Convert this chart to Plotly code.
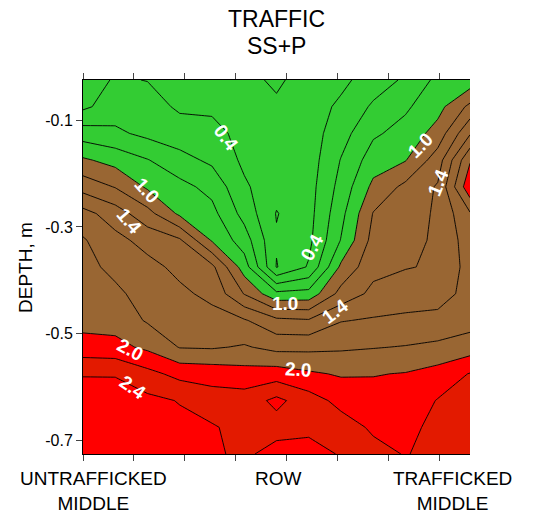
import plotly.graph_objects as go

# ---- data ----
x_cm = [0, 6.33, 12.67, 19, 25.33, 31.67, 38, 44.33, 50.67, 57, 63.33, 69.67, 76]
depth_m = [-0.025, -0.075, -0.125, -0.175, -0.225, -0.275, -0.325, -0.375,
           -0.425, -0.475, -0.525, -0.575, -0.625, -0.675, -0.725]
z_rows = [
    [0.30, 0.42, 0.395, 0.33, 0.30, 0.25, 0.17, 0.28, 0.35, 0.50, 0.63, 0.85, 0.88],
    [0.36, 0.50, 0.48, 0.37, 0.36, 0.30, 0.23, 0.30, 0.44, 0.63, 0.77, 0.93, 1.25],
    [0.70, 0.64, 0.55, 0.49, 0.47, 0.33, 0.26, 0.30, 0.52, 0.77, 0.87, 1.08, 1.58],
    [1.03, 0.93, 0.81, 0.67, 0.56, 0.36, 0.27, 0.30, 0.61, 0.90, 0.99, 1.30, 1.98],
    [1.32, 1.19, 0.97, 0.86, 0.74, 0.43, 0.27, 0.32, 0.67, 1.05, 1.25, 1.42, 2.15],
    [1.67, 1.50, 1.27, 0.96, 0.86, 0.53, 0.19, 0.33, 0.74, 1.21, 1.30, 1.43, 1.78],
    [1.82, 1.66, 1.53, 1.43, 0.98, 0.70, 0.22, 0.35, 0.81, 1.27, 1.34, 1.43, 1.70],
    [1.86, 1.75, 1.66, 1.55, 1.45, 0.90, 0.19, 0.42, 1.04, 1.34, 1.39, 1.42, 1.68],
    [1.90, 1.84, 1.72, 1.64, 1.55, 1.19, 0.85, 0.87, 1.27, 1.45, 1.50, 1.50, 1.68],
    [1.93, 1.92, 1.78, 1.72, 1.67, 1.62, 1.45, 1.42, 1.59, 1.62, 1.64, 1.67, 1.72],
    [2.08, 2.06, 1.96, 1.79, 1.78, 1.82, 1.74, 1.75, 1.77, 1.79, 1.81, 1.84, 1.90],
    [2.39, 2.39, 2.26, 2.14, 2.12, 2.08, 2.10, 2.03, 1.98, 1.99, 2.01, 2.08, 2.21],
    [2.48, 2.47, 2.45, 2.39, 2.29, 2.29, 2.45, 2.29, 2.14, 2.08, 2.08, 2.21, 2.28],
    [2.52, 2.50, 2.50, 2.45, 2.42, 2.33, 2.32, 2.34, 2.29, 2.17, 2.14, 2.26, 2.30],
    [2.50, 2.50, 2.50, 2.47, 2.43, 2.36, 2.48, 2.50, 2.38, 2.26, 2.19, 2.26, 2.30],
]
y_tick_vals = [-0.1, -0.3, -0.5, -0.7]
y_tick_text = ["-0.1", "-0.3", "-0.5", "-0.7"]
y_minor_vals = [-0.1, -0.2, -0.3, -0.4, -0.5, -0.6, -0.7]
x_tick_vals = [0, 10, 20, 30, 40, 50, 60, 70]
x_cat_text = ["UNTRAFFICKED<br>MIDDLE", "ROW", "TRAFFICKED<br>MIDDLE"]
x_cat_pos = [2.0, 38.3, 72.5]

# contour labels (text, x, y, angle)
lab_text = ["0.4", "1.0", "1.4", "0.4", "1.0", "1.4", "1.0", "1.4", "2.0", "2.0", "2.4"]
lab_x = [28.1, 12.6, 9.2, 45.0, 39.7, 49.5, 66.2, 69.7, 9.2, 42.2, 9.8]
lab_y = [-0.132, -0.231, -0.289, -0.339, -0.444, -0.459, -0.147, -0.216, -0.530, -0.567, -0.601]
lab_ang = [53, 48, 50, -62, 0, -37, -45, -68, 28, 3, 35]

# ---- styles ----
GREEN = "#33CC33"
BROWN = "#996633"
RED = "#FF0000"
DRED = "#E31A00"
FONT = "Liberation Sans, Arial, sans-serif"

start, end, size = 0.2, 2.6, 0.2
nbands = 14
band_cols = [GREEN] * 5 + [BROWN] * 5 + [RED, DRED, RED, DRED]
colorscale = []
for j, c in enumerate(band_cols):
    lo = max(0.0, (j - 0.5) / (nbands - 1))
    hi = min(1.0, (j + 0.5) / (nbands - 1))
    colorscale.append([lo, c])
    colorscale.append([hi, c])

fig = go.Figure()
fig.add_trace(go.Contour(
    x=x_cm, y=depth_m, z=z_rows,
    autocontour=False,
    contours=dict(start=start, end=end, size=size, coloring="fill", showlabels=False),
    colorscale=colorscale,
    line=dict(color="black", width=0.9, smoothing=0),
    showscale=False,
    hoverinfo="skip",
))

# page body has an 8px margin: figure is laid out so the plot box lands at 83..470 x 80..454
PH = 374.0  # plot height px
annotations = []
for t, xx, yy, a in zip(lab_text, lab_x, lab_y, lab_ang):
    annotations.append(dict(x=xx, y=yy, xref="x", yref="y", text="<b>" + t + "</b>",
                            showarrow=False, textangle=a,
                            font=dict(family=FONT, size=19, color="white")))
for t, xx in zip(x_cat_text, x_cat_pos):
    annotations.append(dict(x=xx, y=(454 - 466) / PH, xref="x", yref="paper", yanchor="top",
                            xanchor="center", text=t, showarrow=False,
                            font=dict(family=FONT, size=19, color="black")))
annotations.append(dict(x=(25 - 83) / 387.0, y=(454 - 268) / PH, xref="paper", yref="paper",
                        text="DEPTH, m", textangle=-90, showarrow=False,
                        xanchor="center", yanchor="middle",
                        font=dict(family=FONT, size=19, color="black")))
annotations.append(dict(x=0.5, y=(454 - 19) / PH, xref="paper", yref="paper", text="TRAFFIC",
                        xanchor="center", yanchor="middle",
                        showarrow=False, font=dict(family=FONT, size=23, color="black")))
annotations.append(dict(x=0.5, y=(454 - 46) / PH, xref="paper", yref="paper", text="SS+P",
                        xanchor="center", yanchor="middle",
                        showarrow=False, font=dict(family=FONT, size=23, color="black")))

fig.update_layout(
    width=544, height=509,
    margin=dict(l=75, r=82, t=72, b=63, autoexpand=False),
    paper_bgcolor="white", plot_bgcolor="white",
    showlegend=False,
    xaxis=dict(range=[0, 76], tickvals=x_tick_vals, ticks="outside", ticklen=6,
               showticklabels=False, showline=True, linecolor="black", linewidth=1,
               mirror="ticks", showgrid=False, zeroline=False),
    yaxis=dict(range=[-0.725, -0.025], tickvals=y_tick_vals, ticktext=y_tick_text,
               ticks="outside", ticklen=6, showline=True, linecolor="black", linewidth=1,
               showgrid=False, zeroline=False,
               tickfont=dict(family=FONT, size=16, color="black")),
    yaxis2=dict(range=[-0.725, -0.025], overlaying="y", side="right", anchor="x",
                tickvals=y_minor_vals, ticks="outside", ticklen=6, showticklabels=False,
                showline=True, linecolor="black", linewidth=1, showgrid=False, zeroline=False),
    annotations=annotations,
)

fig.write_html("out.html")
